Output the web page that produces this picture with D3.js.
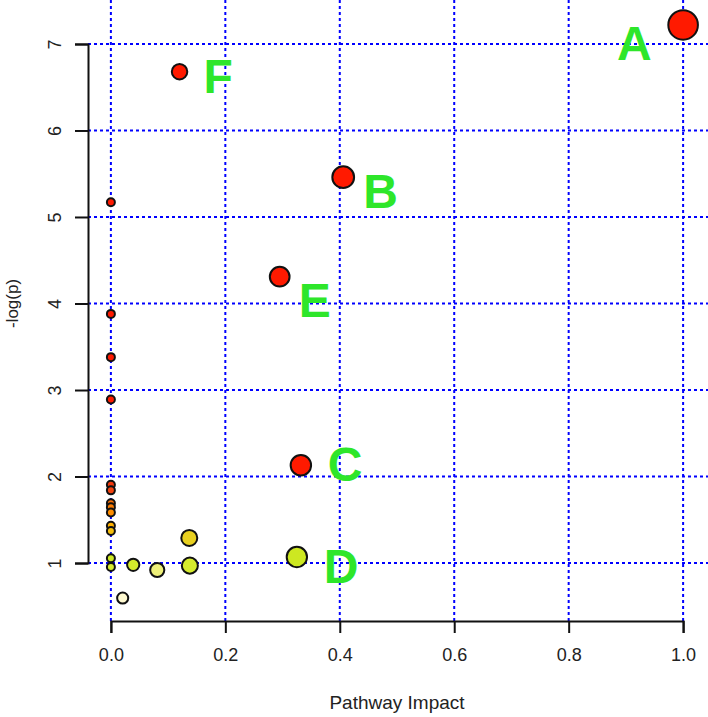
<!DOCTYPE html>
<html>
<head>
<meta charset="utf-8">
<script src="https://cdn.jsdelivr.net/npm/d3@7"></script>
<style>
  body { margin: 0; background: #fff; }
  text { font-family: "Liberation Sans", Arial, sans-serif; }
</style>
</head>
<body>
<div id="chart"></div>
<script>
// Data: pathway impact (x) and -log(p) (y)
const pathwayImpact = [1.0, 0.12, 0.406, 0.295, 0.332, 0.325,
  0, 0, 0, 0, 0, 0, 0, 0, 0, 0, 0, 0, 0,
  0.0206, 0.039, 0.081, 0.137, 0.138];
const negLogP = [7.22, 6.68, 5.46, 4.31, 2.13, 1.07,
  5.17, 3.88, 3.38, 2.89, 1.905, 1.84, 1.69, 1.645, 1.585, 1.43, 1.37, 1.055, 0.955,
  0.595, 0.98, 0.92, 1.29, 0.97];
const pointNames = ["A", "F", "B", "E", "C", "D"];
const xTicks = [0, 0.2, 0.4, 0.6, 0.8, 1.0];
const yTicks = [1, 2, 3, 4, 5, 6, 7];

const data = pathwayImpact.map((x, i) => ({x, y: negLogP[i], name: pointNames[i] || null}));

const width = 708;
const height = 717;
const plot = {left: 88, right: 706, top: 2, bottom: 621};

const svg = d3.select("#chart")
  .append("svg")
    .attr("width", width)
    .attr("height", height);

/* Scales: R style, data range padded by 4% */
const pad = ([a, b]) => [a - (b - a) * 0.04, b + (b - a) * 0.04];
const xScale = d3.scaleLinear()
  .domain(pad(d3.extent(data, d => d.x)))
  .range([plot.left, plot.right]);
const yScale = d3.scaleLinear()
  .domain(pad(d3.extent(data, d => d.y)))
  .range([plot.bottom, plot.top]);
const rScale = d3.scaleSqrt()
  .domain([0, 1])
  .range([4, 14.8]);
const colorScale = d3.scaleLinear()
  .domain([0.59, 0.92, 0.95, 1.07, 1.29, 1.43, 1.6, 1.85, 2.1])
  .range(["#fffad2", "#eef07a", "#d8ec30", "#cde821", "#e8d020", "#ffb000", "#ff8a00", "#f24010", "#ff1a00"])
  .clamp(true);

/* Grid */
const blue = "#0000ff";
svg.append("g")
  .selectAll("line")
  .data(xTicks)
  .join("line")
    .attr("x1", d => xScale(d)).attr("x2", d => xScale(d))
    .attr("y1", 0).attr("y2", plot.bottom)
    .attr("stroke", blue).attr("stroke-width", 2).attr("stroke-dasharray", "3,3");
svg.append("g")
  .selectAll("line")
  .data(yTicks)
  .join("line")
    .attr("x1", plot.left).attr("x2", width)
    .attr("y1", d => yScale(d)).attr("y2", d => yScale(d))
    .attr("stroke", blue).attr("stroke-width", 2).attr("stroke-dasharray", "3,3");

/* Axes (line only spans the ticks, like R) */
const xAxisScale = d3.scaleLinear().domain([0, 1]).range([xScale(0), xScale(1)]);
const bottomAxis = d3.axisBottom(xAxisScale)
  .tickValues(xTicks)
  .tickFormat(d3.format(".1f"))
  .tickSizeOuter(0)
  .tickSize(12)
  .tickPadding(15);
const xAxis = svg.append("g")
  .attr("transform", `translate(0, ${plot.bottom})`)
  .call(bottomAxis);
xAxis.selectAll("text").attr("font-size", 18).attr("fill", "#222");

const yAxisScale = d3.scaleLinear().domain([1, 7]).range([yScale(1), yScale(7)]);
const leftAxis = d3.axisLeft(yAxisScale)
  .tickValues(yTicks)
  .tickFormat(d3.format("d"))
  .tickSizeOuter(0)
  .tickSize(13);
const yAxis = svg.append("g")
  .attr("transform", `translate(${plot.left}, 0)`)
  .call(leftAxis);
yAxis.selectAll("text")
  .attr("x", null).attr("dy", null)
  .attr("text-anchor", "middle")
  .attr("transform", "translate(-27, 0) rotate(-90)")
  .attr("font-size", 18).attr("fill", "#222");

svg.selectAll(".domain, .tick line")
  .attr("stroke", "#111").attr("stroke-width", 2);

/* Axis titles */
svg.append("text")
  .text("Pathway Impact")
  .attr("x", xScale(0.5)).attr("y", 709)
  .attr("text-anchor", "middle")
  .attr("font-size", 19).attr("fill", "#222");
svg.append("text")
  .text("-log(p)")
  .attr("transform", `translate(18, ${yScale(4.0)}) rotate(-90)`)
  .attr("text-anchor", "middle")
  .attr("font-size", 17).attr("fill", "#222");

/* Points */
svg.append("g")
  .selectAll("circle")
  .data(data.slice().sort((a, b) => b.y - a.y))
  .join("circle")
    .attr("cx", d => xScale(d.x))
    .attr("cy", d => yScale(d.y))
    .attr("r", d => rScale(d.x))
    .attr("fill", d => colorScale(d.y))
    .attr("stroke", "#111")
    .attr("stroke-width", 2);

/* Letter annotations, offset from their point */
const labelOffset = {A: [-66, 35], F: [24, 21], B: [20, 31], E: [19, 40], C: [27, 16], D: [27, 26]};
svg.append("g")
  .selectAll("text")
  .data(data.filter(d => d.name))
  .join("text")
    .text(d => d.name)
    .attr("x", d => xScale(d.x) + labelOffset[d.name][0])
    .attr("y", d => yScale(d.y) + labelOffset[d.name][1])
    .attr("font-size", 48)
    .attr("font-weight", "bold")
    .attr("fill", "#2ee62a");
</script>
</body>
</html>
